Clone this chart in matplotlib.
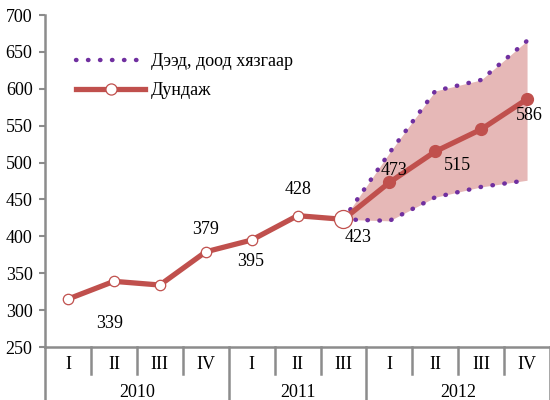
import matplotlib.pyplot as plt
from matplotlib.lines import Line2D
from matplotlib.transforms import blended_transform_factory

plt.rcParams['font.family'] = ['Liberation Serif', 'DejaVu Serif']

# Data
quarters = ['I', 'II', 'III', 'IV', 'I', 'II', 'III', 'I', 'II', 'III', 'IV']
years = ['2010', '2011', '2012']
year_spans = [(0, 4), (4, 7), (7, 11)]
mean_vals = [315, 339, 334, 379, 395, 428, 423, 473, 515, 545, 586]
upper_vals = [423, 513, 597, 612, 665]
lower_vals = [423, 421, 453, 467, 476]
band_start = 6

# which points get a value label and where (pixel offsets)
label_offsets = {1: (-4, -42), 3: (0, 22), 4: (-1, -21), 5: (1, 26),
                 6: (15, -18), 7: (5, 12), 8: (22, -14), 10: (2, -16)}

red = '#c0504d'
purple = '#7030a0'
gray = '#8c8c8c'
fs = 13

fig = plt.figure(figsize=(5.5, 4), dpi=100)
ax = fig.add_axes([0.082, 0.1325, 0.918, 0.83])

x = list(range(len(mean_vals)))
xb = x[band_start:]

ax.fill_between(xb, lower_vals, upper_vals, color='#e6b8b7', lw=0, zorder=1)
ax.plot(xb, upper_vals, color=purple, lw=3.2, ls=(0, (0.1, 2.6)),
        dash_capstyle='round', zorder=2)
ax.plot(xb, lower_vals, color=purple, lw=3.2, ls=(0, (0.1, 2.6)),
        dash_capstyle='round', zorder=2)

ax.plot(x, mean_vals, color=red, lw=3.8, zorder=3)
ax.plot(x[:band_start], mean_vals[:band_start], 'o', ms=7.5, mfc='white',
        mec=red, mew=0.9, zorder=4)
ax.plot(x[band_start], mean_vals[band_start], 'o', ms=13, mfc='white',
        mec=red, mew=0.9, zorder=4)
ax.plot(x[band_start + 1:], mean_vals[band_start + 1:], 'o', ms=8.5,
        color=red, zorder=4)

for i, (dx, dy) in label_offsets.items():
    ax.annotate(str(mean_vals[i]), (i, mean_vals[i]), xytext=(dx, dy),
                textcoords='offset pixels', ha='center', va='center',
                fontsize=fs, zorder=5)

ax.set_xlim(-0.5, 10.5)
ax.set_ylim(250, 700)
ax.set_yticks(range(250, 701, 50))
ax.tick_params(axis='y', labelsize=fs, length=4, color=gray, width=1.5, pad=5)
ax.set_xticks([])

for s in ['top', 'right']:
    ax.spines[s].set_visible(False)
for s in ['left', 'bottom']:
    ax.spines[s].set_color(gray)
    ax.spines[s].set_linewidth(1.8)

# two-level category axis
trans = blended_transform_factory(ax.transData, ax.transAxes)
for i, q in enumerate(quarters):
    ax.text(i, -0.054, q, transform=trans, ha='center', va='center', fontsize=fs)
year_edges = [s for s, e in year_spans]
for k in range(1, len(quarters)):
    if k in year_edges:
        continue
    ax.plot([k - 0.5, k - 0.5], [0, -0.081], transform=trans, color=gray,
            lw=1.8, clip_on=False)
for k in year_edges + [len(quarters)]:
    ax.plot([k - 0.5, k - 0.5], [0, -0.17], transform=trans, color=gray,
            lw=1.8, clip_on=False)
for yr, (s, e) in zip(years, year_spans):
    ax.text((s + e - 1) / 2, -0.136, yr, transform=trans, ha='center',
            va='center', fontsize=fs)

handles = [Line2D([], [], color=purple, lw=3.2, ls=(0, (0.1, 2.6)),
                  dash_capstyle='round'),
           Line2D([], [], color=red, lw=3.8, marker='o', ms=8, mfc='white',
                  mec=red, mew=0.9)]
ax.legend(handles, ['Дээд, доод хязгаар', 'Дундаж'], loc='upper left',
          bbox_to_anchor=(0.03, 0.935), frameon=False, fontsize=fs,
          handlelength=3.8, handletextpad=0.3, labelspacing=0.7)

fig.savefig('out.png', dpi=100)
